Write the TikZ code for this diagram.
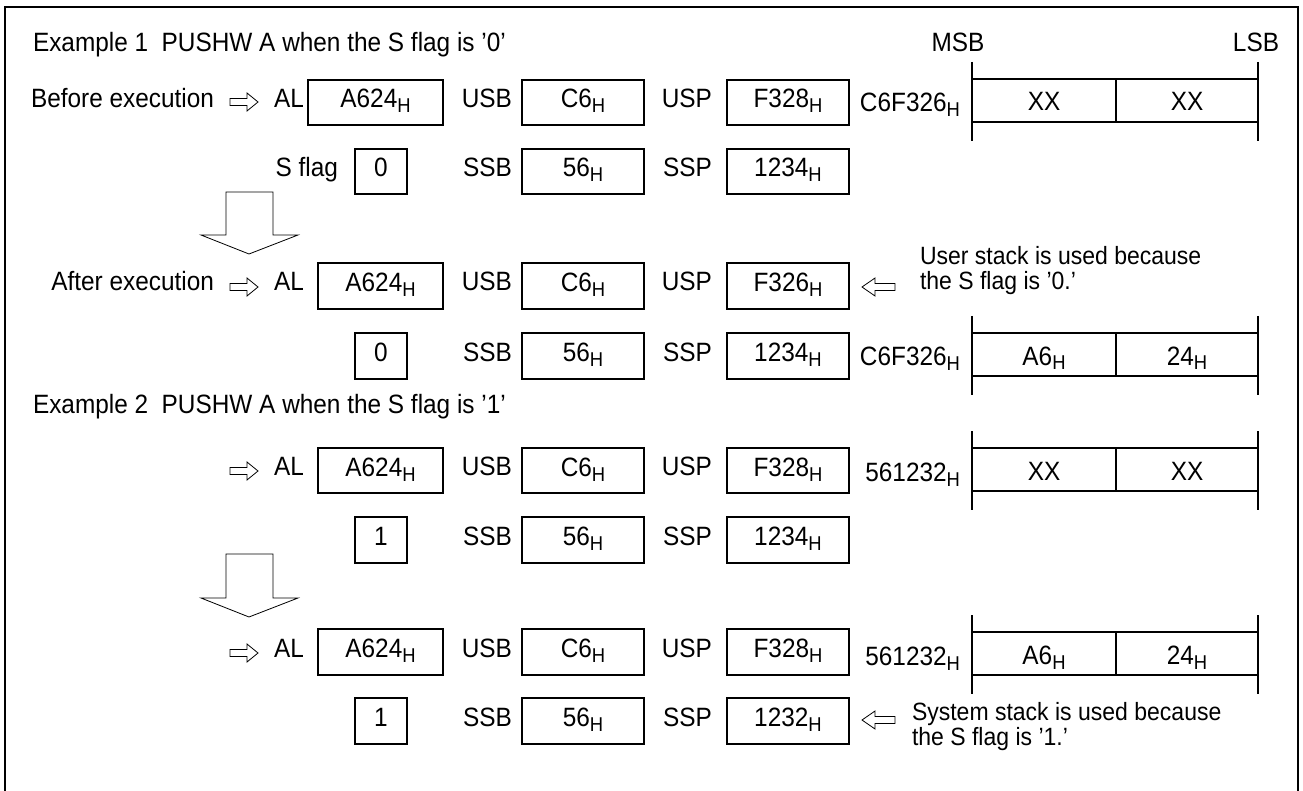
\documentclass[tikz,border=0pt]{standalone}
\usepackage{fontspec}
\setmainfont[FakeStretch=0.92]{Liberation Sans}
\newcommand\hsub{\raisebox{-5pt}{\fontsize{20}{20}\selectfont H}}
\tikzset{
  every node/.style={font=\fontsize{26.5}{30}\selectfont, inner sep=0pt, outer sep=0pt},
  regbox/.style={draw, line width=2pt},
  cellbox/.style={draw, line width=1.2pt},
  bar/.style={line width=2.5pt},
  hollow/.style={draw, line width=0.8pt, line join=miter},
  txt/.style={anchor=base},
  lbl/.style={anchor=base east},
  lft/.style={anchor=base west},
  note/.style={anchor=base west, font=\fontsize{25}{28}\selectfont}
}
% name, xleft, xright, ytop, ybottom, text
\newcommand\rbox[6]{%
  \node[regbox, minimum width={#3-#2}, minimum height={#5-#4}] (#1) at ({(#2+#3)/2},{(#4+#5)/2}) {};
  \node[txt] (#1t) at ({(#2+#3)/2},{(#4+#5)/2+5.5}) {#6};}
% name, cell top, left text, right text, address
\newcommand\memrow[5]{%
  \node[cellbox, minimum width=144, minimum height=43] (#1a) at (1044,{#2+21.5}) {};
  \node[cellbox, minimum width=142, minimum height=43] (#1b) at (1187,{#2+21.5}) {};
  \coordinate (#1lt) at (972,{#2-17});
  \coordinate (#1lb) at (972,{#2+62});
  \coordinate (#1rt) at (1258,{#2-17});
  \coordinate (#1rb) at (1258,{#2+62});
  \draw[bar] (#1lt) -- (#1lb);
  \draw[bar] (#1rt) -- (#1rb);
  \node[txt] (#1at) at (1044,{#2+32}) {#3};
  \node[txt] (#1bt) at (1187,{#2+32}) {#4};
  \node[lbl] (#1ad) at (960,{#2+33}) {#5};}
% right hollow arrow: name, y
\newcommand\rarr[2]{%
  \coordinate (#1) at (230,#2);
  \draw[hollow] (230,{#2-3.5}) -- (247,{#2-3.5}) -- (247,{#2-9}) -- (258,#2) -- (247,{#2+9}) -- (247,{#2+3.5}) -- (230,{#2+3.5}) -- cycle;}
% left hollow arrow: name, y
\newcommand\larr[2]{%
  \coordinate (#1) at (862,#2);
  \draw[hollow] (862,#2) -- (875,{#2-9}) -- (875,{#2-3.5}) -- (895,{#2-3.5}) -- (895,{#2+3.5}) -- (875,{#2+3.5}) -- (875,{#2+9}) -- cycle;}
% big down arrow: name, ytop, yhead, ytip
\newcommand\darr[4]{%
  \coordinate (#1) at (249,#4);
  \draw[hollow] (226,#2) -- (273,#2) -- (273,#3) -- (298,#3) -- (249,#4) -- (201,#3) -- (226,#3) -- cycle;}
\begin{document}
\begin{tikzpicture}[x=1pt,y=-1pt]
\useasboundingbox (0,0) rectangle (1303,791);
% frame
\coordinate (fbl) at (5,791); \coordinate (ftl) at (5,7);
\coordinate (ftr) at (1298,7); \coordinate (fbr) at (1298,791);
\draw[line width=2.5pt] (fbl) -- (ftl) -- (ftr) -- (fbr);

% ---- Example 1
\node[lft] (ex1) at (33,52) {Example 1\ \ PUSHW A when the S flag is '0'};
\node[txt] (msb) at (958,52) {MSB};
\node[txt] (lsb) at (1256,52) {LSB};

% Row A
\node[lbl] (before) at (214,107.5) {Before execution};
\rarr{ra}{102}
\node[lbl] (alA) at (304,107.5) {AL};
\rbox{boxALA}{308}{443}{80}{125}{A624\hsub}
\node[lbl] (usbA) at (512,107.5) {USB};
\rbox{boxUSBA}{522}{644}{80}{125}{C6\hsub}
\node[lbl] (uspA) at (712,107.5) {USP};
\rbox{boxUSPA}{727}{849}{80}{125}{F328\hsub}
\memrow{mA}{79}{XX}{XX}{C6F326\hsub}

% Row B
\node[lbl] (sflag) at (338,176.5) {S flag};
\rbox{boxSB}{355}{407}{149}{194}{0}
\node[lbl] (ssbB) at (512,176.5) {SSB};
\rbox{boxSSBB}{522}{644}{149}{194}{56\hsub}
\node[lbl] (sspB) at (712,176.5) {SSP};
\rbox{boxSSPB}{727}{849}{149}{194}{1234\hsub}

\darr{da1}{192}{235}{254}

% Row C
\node[lbl] (after) at (214,291) {After execution};
\rarr{rc}{287}
\node[lbl] (alC) at (304,291) {AL};
\rbox{boxALC}{318}{443}{263}{309}{A624\hsub}
\node[lbl] (usbC) at (512,291) {USB};
\rbox{boxUSBC}{522}{644}{263}{309}{C6\hsub}
\node[lbl] (uspC) at (712,291) {USP};
\rbox{boxUSPC}{727}{849}{263}{309}{F326\hsub}
\larr{lc}{287}
\node[note] (noteC1) at (920,265) {User stack is used because};
\node[note] (noteC2) at (920,290) {the S flag is '0.'};

% Row D
\rbox{boxSD}{355}{407}{333}{379}{0}
\node[lbl] (ssbD) at (512,361) {SSB};
\rbox{boxSSBD}{522}{644}{333}{379}{56\hsub}
\node[lbl] (sspD) at (712,361) {SSP};
\rbox{boxSSPD}{727}{849}{333}{379}{1234\hsub}
\memrow{mD}{333}{A6\hsub}{24\hsub}{C6F326\hsub}

% ---- Example 2
\node[lft] (ex2) at (33,413) {Example 2\ \ PUSHW A when the S flag is '1'};

% Row E
\rarr{re}{471}
\node[lbl] (alE) at (304,475.5) {AL};
\rbox{boxALE}{318}{443}{448}{493}{A624\hsub}
\node[lbl] (usbE) at (512,475.5) {USB};
\rbox{boxUSBE}{522}{644}{448}{493}{C6\hsub}
\node[lbl] (uspE) at (712,475.5) {USP};
\rbox{boxUSPE}{727}{849}{448}{493}{F328\hsub}
\memrow{mE}{448}{XX}{XX}{561232\hsub}

% Row F
\rbox{boxSF}{355}{407}{517}{563}{1}
\node[lbl] (ssbF) at (512,545) {SSB};
\rbox{boxSSBF}{522}{644}{517}{563}{56\hsub}
\node[lbl] (sspF) at (712,545) {SSP};
\rbox{boxSSPF}{727}{849}{517}{563}{1234\hsub}

\darr{da2}{554}{598}{617}

% Row G
\rarr{rg}{653}
\node[lbl] (alG) at (304,657) {AL};
\rbox{boxALG}{318}{443}{629}{675}{A624\hsub}
\node[lbl] (usbG) at (512,657) {USB};
\rbox{boxUSBG}{522}{644}{629}{675}{C6\hsub}
\node[lbl] (uspG) at (712,657) {USP};
\rbox{boxUSPG}{727}{849}{629}{675}{F328\hsub}
\memrow{mG}{632}{A6\hsub}{24\hsub}{561232\hsub}

% Row H
\rbox{boxSH}{355}{407}{698}{744}{1}
\node[lbl] (ssbH) at (512,726) {SSB};
\rbox{boxSSBH}{522}{644}{698}{744}{56\hsub}
\node[lbl] (sspH) at (712,726) {SSP};
\rbox{boxSSPH}{727}{849}{698}{744}{1232\hsub}
\larr{lh}{720}
\node[note] (noteH1) at (912,720) {System stack is used because};
\node[note] (noteH2) at (912,745) {the S flag is '1.'};
\end{tikzpicture}
\end{document}
